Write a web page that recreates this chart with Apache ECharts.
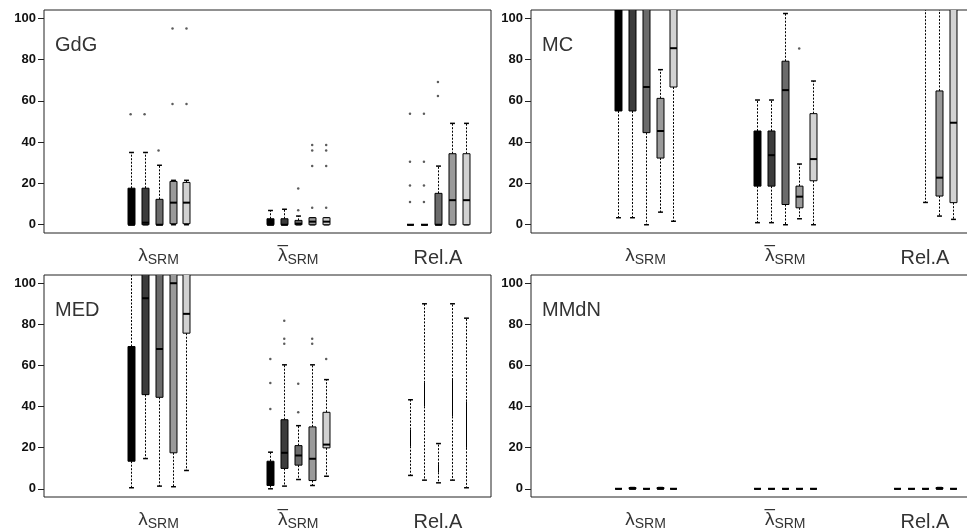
<!DOCTYPE html>
<html>
<head>
<meta charset="utf-8">
<script src="https://cdn.jsdelivr.net/npm/echarts@6/dist/echarts.min.js"></script>
<style>
  html, body { margin: 0; padding: 0; background: #fff; }
  #chart { width: 967px; height: 531px; }
</style>
</head>
<body>
<div id="chart"></div>
<script>
// groups on the x axis, 5 boxes in each
const categories = ["λSRM", "λbarSRM", "Rel.A"];
const panelNames = ["GdG", "MC", "MED", "MMdN"];
const yTicks = [0, 20, 40, 60, 80, 100];

// box stats: [lowWhisker, q1, median, q3, highWhisker], 15 boxes per panel
// (values above 104 are cut off in the original)
const gdgStats = [
  [0, 0, 0, 17.7, 35], [0, 0, 1, 17.7, 35], [0, 0, 0, 12.3, 28.8], [0, 0.5, 10.7, 21, 21.5], [0, 0.5, 10.7, 20.5, 21.5],
  [0, 0, 0, 2.9, 6.9], [0, 0, 0, 2.9, 7.5], [0, 0, 0.5, 2.1, 4.2], [0, 0, 1.5, 3.4, 3.4], [0, 0, 1.5, 3.4, 3.4],
  [0, 0, 0, 0, 0], [0, 0, 0, 0, 0], [0, 0, 0, 15.2, 28.4], [0, 0, 11.9, 34.4, 49.1], [0, 0, 11.9, 34.4, 49.1]
];
const mcStats = [
  [3.4, 55.1, 110, 120, 130], [3.4, 55.1, 110, 120, 130], [0, 44.6, 66.7, 120, 130], [6.1, 32.3, 45.4, 61.2, 75.1], [1.7, 66.7, 85.5, 120, 130],
  [1, 18.7, 33.7, 45.4, 60.4], [1, 18.7, 33.7, 45.4, 60.4], [0, 9.8, 65.2, 79.2, 102.3], [2.9, 8.2, 13.6, 18.7, 29.4], [0, 21.3, 31.8, 53.8, 69.6],
  null, null, [10.8, 108, 115, 120, 130], [4.2, 13.9, 22.8, 64.8, 120], [2.6, 10.7, 49.4, 115, 130]
];
const medStats = [
  [0.5, 13.4, 40, 69.2, 120], [14.7, 45.8, 92.7, 115, 130], [1.3, 44.5, 68, 115, 130], [1, 17.5, 100, 115, 130], [8.9, 75.7, 85.1, 115, 130],
  [0, 1.6, 8, 13.4, 17.8], [1.3, 9.9, 17.5, 33.6, 60.3], [4.5, 11.5, 16.2, 21, 30.7], [1.6, 4, 14.6, 30.1, 60.3], [6.1, 19.9, 21.5, 37.2, 53.1],
  [6.5, 20.7, 25, 28.8, 43.3], [4.2, 40.1, 45, 51.5, 90], [2.9, 8, 10, 12, 22], [4.2, 35.2, 45, 52.9, 90], [0.5, 19.9, 30, 42.5, 83]
];
const mmdnStats = [
  [0, 0, 0, 0, 0], [0, 0, 0, 0.6, 0.6], [0, 0, 0, 0, 0], [0, 0, 0, 0.6, 0.6], [0, 0, 0, 0, 0],
  [0, 0, 0, 0, 0], [0, 0, 0, 0, 0], [0, 0, 0, 0, 0], [0, 0, 0, 0, 0], [0, 0, 0, 0, 0],
  [0, 0, 0, 0, 0], [0, 0, 0, 0, 0], [0, 0, 0, 0, 0], [0, 0, 0, 0.6, 0.6], [0, 0, 0, 0, 0]
];

// outliers per box
const gdgOutliers = [
  [53.5], [53.5], [36], [58.5, 95], [58.5, 95],
  [], [], [7, 17.6], [8.2, 28.4, 36, 38.6], [8.2, 28.4, 36, 38.6],
  [11, 19, 30.5, 53.8], [11, 19, 30.5, 53.8], [62.3, 69.1], [], []
];
const mcOutliers = [
  [], [], [], [], [],
  [], [], [], [85.3], [],
  [], [], [], [], []
];
const medOutliers = [
  [], [], [], [], [],
  [38.8, 51.5, 63.1], [70.5, 73, 81.8], [37.2, 51.1], [70.5, 73], [63.1],
  [], [], [], [], []
];
const mmdnOutliers = [
  [], [], [], [], [], [], [], [], [], [], [], [], [], [], []
];

const allStats = [gdgStats, mcStats, medStats, mmdnStats];
const allOutliers = [gdgOutliers, mcOutliers, medOutliers, mmdnOutliers];

// boxes drawn without body width in the original (very small groups)
const thinBoxes = [[], [12], [10, 11, 12, 13, 14], []];

const shades = ["#000000", "#3c3c3c", "#6b6b6b", "#9a9a9a", "#d2d2d2"];

// right-hand panels run past the edge of the picture, as in the original
const grids = [
  { left: 44, top: 10, width: 447, height: 223 },
  { left: 531, top: 10, width: 447, height: 223 },
  { left: 44, top: 275, width: 447, height: 222 },
  { left: 531, top: 275, width: 447, height: 222 }
];

function boxPosition(i) {
  const group = Math.floor(i / 5);
  const k = i % 5;
  return group + 1 + (k - 2) * 0.1;
}

function renderBox(params, api) {
  const x = api.value(0);
  const low = api.value(1), q1 = api.value(2), med = api.value(3), q3 = api.value(4), high = api.value(5);
  const shade = api.value(6);
  const thin = api.value(7);
  const cx = Math.round(api.coord([x, 0])[0]) + 0.5;
  const w = api.size([0.05, 0])[0];
  const capW = api.size([0.035, 0])[0];
  const yLow = api.coord([x, low])[1];
  const yQ1 = api.coord([x, q1])[1];
  const yMed = api.coord([x, med])[1];
  const yQ3 = api.coord([x, q3])[1];
  const yHigh = api.coord([x, high])[1];
  const dashed = { stroke: "#000", lineWidth: 1, lineDash: [2, 1.5] };
  const solid = { stroke: "#000", lineWidth: 1.5 };
  const children = [
    { type: "line", shape: { x1: cx, y1: yQ3, x2: cx, y2: yHigh }, style: dashed },
    { type: "line", shape: { x1: cx, y1: yQ1, x2: cx, y2: yLow }, style: dashed },
    { type: "line", shape: { x1: cx - capW / 2, y1: yHigh, x2: cx + capW / 2, y2: yHigh }, style: solid },
    { type: "line", shape: { x1: cx - capW / 2, y1: yLow, x2: cx + capW / 2, y2: yLow }, style: solid }
  ];
  if (thin) {
    children.push({ type: "line", shape: { x1: cx, y1: yQ1, x2: cx, y2: yQ3 }, style: { stroke: "#000", lineWidth: 1 } });
  } else {
    children.push({
      type: "rect",
      shape: { x: cx - w / 2, y: yQ3, width: w, height: yQ1 - yQ3 },
      style: { fill: shades[shade], stroke: "#000", lineWidth: 1 }
    });
    children.push({ type: "line", shape: { x1: cx - w / 2, y1: yMed, x2: cx + w / 2, y2: yMed }, style: { stroke: "#000", lineWidth: 2 } });
  }
  return { type: "group", children: children };
}

const labelFont = "Liberation Sans";
const richLabels = {
  top: { fontSize: 19, lineHeight: 2, color: "#333", fontFamily: labelFont },
  ghost: { fontSize: 14, lineHeight: 2, color: "rgba(0,0,0,0)", fontFamily: labelFont },
  l: { fontSize: 19, color: "#333", fontFamily: labelFont, verticalAlign: "top" },
  r: { fontSize: 20, color: "#333", fontFamily: labelFont, verticalAlign: "top", padding: [2, 0, 0, 0] },
  s: { fontSize: 14, color: "#333", fontFamily: labelFont, verticalAlign: "top", padding: [7, 0, 0, 0] }
};

function categoryLabel(v) {
  const name = categories[Math.round(v) - 1];
  if (name === "Rel.A") return "{top| }\n{r|Rel.A}";
  if (name === "λbarSRM") return "{top|–}{ghost|SRM}\n{l|λ}{s|SRM}";
  return "{top| }\n{l|λ}{s|SRM}";
}

const titles = [];
const xAxes = [];
const yAxes = [];
const series = [];

grids.forEach((g, p) => {
  titles.push({
    text: panelNames[p],
    left: g.left + 11,
    top: g.top + 25,
    padding: 0,
    textStyle: { fontSize: 20, fontWeight: "normal", color: "#333", fontFamily: labelFont }
  });
  xAxes.push({
    type: "value",
    gridIndex: p,
    min: 0.18,
    max: 3.38,
    splitLine: { show: false },
    axisLine: { show: false },
    axisTick: { show: false },
    axisLabel: {
      customValues: [1, 2, 3],
      margin: 11,
      formatter: categoryLabel,
      rich: richLabels
    }
  });
  yAxes.push({
    type: "value",
    gridIndex: p,
    min: -4,
    max: 104,
    splitLine: { show: false },
    axisLine: { show: false },
    axisTick: { show: true, length: 6, customValues: yTicks, lineStyle: { color: "#222", width: 1 } },
    axisLabel: {
      customValues: yTicks,
      margin: 8,
      fontSize: 13,
      fontWeight: "bold",
      color: "#111",
      fontFamily: labelFont
    }
  });

  const boxData = [];
  const outlierData = [];
  allStats[p].forEach((s, i) => {
    const x = boxPosition(i);
    if (s) {
      const thin = thinBoxes[p].indexOf(i) >= 0 ? 1 : 0;
      boxData.push([x, s[0], s[1], s[2], s[3], s[4], i % 5, thin]);
    }
    allOutliers[p][i].forEach((v) => outlierData.push([x, v]));
  });

  series.push({
    type: "custom",
    xAxisIndex: p,
    yAxisIndex: p,
    clip: true,
    silent: true,
    renderItem: renderBox,
    encode: { x: 0, y: [1, 2, 3, 4, 5] },
    data: boxData
  });
  series.push({
    type: "scatter",
    xAxisIndex: p,
    yAxisIndex: p,
    silent: true,
    symbol: "circle",
    symbolSize: 2.5,
    itemStyle: { color: "#333" },
    data: outlierData
  });
});

const chart = echarts.init(document.getElementById("chart"));
chart.setOption({
  animation: false,
  backgroundColor: "#fff",
  title: titles,
  grid: grids.map((g) => Object.assign({
    show: true,
    borderColor: "#222",
    borderWidth: 1,
    containLabel: false,
    outerBoundsMode: "none"
  }, g)),
  xAxis: xAxes,
  yAxis: yAxes,
  series: series
});
</script>
</body>
</html>
